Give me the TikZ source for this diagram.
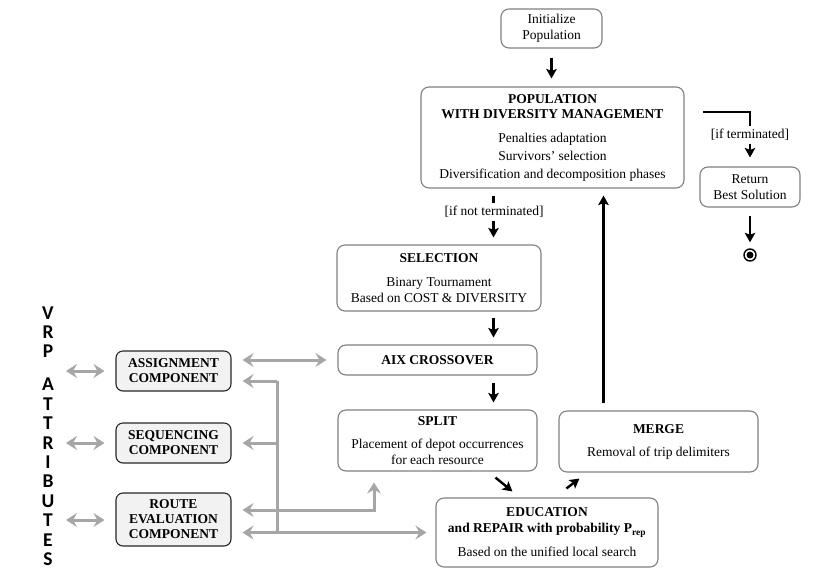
\documentclass[tikz,border=0pt]{standalone}
\usepackage{fontspec}
\setmainfont{Liberation Serif}
\newfontfamily\vrpfont{Carlito}
\usetikzlibrary{arrows.meta,calc}

\definecolor{boxline}{HTML}{808080}
\definecolor{compfill}{HTML}{F2F2F2}
\definecolor{compline}{HTML}{262626}
\definecolor{linkgray}{HTML}{A6A6A6}

\tikzset{
  ftip/.tip={Stealth[length=9.5pt,width=10.5pt,inset=2pt]},
  gtip/.tip={Stealth[length=11pt,width=14pt,inset=4pt]},
  stagebox/.style={draw=boxline, line width=1.1pt, rounded corners=8pt, fill=white,
    inner sep=0pt, align=center, font=\fontsize{13.5}{15}\selectfont},
  compbox/.style={draw=compline, line width=1.1pt, rounded corners=7pt, fill=compfill,
    inner sep=0pt, align=center, minimum width=115pt,
    font=\fontsize{13.5}{15}\selectfont\bfseries},
  flow/.style={line width=2.4pt, -ftip},
  plainlink/.style={draw=linkgray, line width=3pt},
  link/.style={plainlink, -gtip},
  twolink/.style={plainlink, gtip-gtip},
  guard/.style={fill=white, inner xsep=1pt, inner ysep=3pt,
    font=\fontsize{13.5}{15}\selectfont},
}

\begin{document}
\begin{tikzpicture}[x=1pt, y=-1pt]
\useasboundingbox (0,0) rectangle (815,574);

% ---- main evolutionary loop ----
\node[stagebox, minimum width=101pt, minimum height=39pt] (init) at (551.5,28.5)
  {Initialize\\[1pt]Population};
\node[stagebox, minimum width=263pt, minimum height=101pt] (pop) at (552.5,137.5)
  {\textbf{POPULATION}\\\textbf{WITH DIVERSITY MANAGEMENT}\\[9pt]
   Penalties adaptation\\[3pt]Survivors’ selection\\[3pt]Diversification and decomposition phases};
\node[stagebox, minimum width=100pt, minimum height=40pt] (ret) at (750,187)
  {Return\\[1pt]Best Solution};
\node[circle, draw, line width=1.4pt, minimum size=12pt, inner sep=0pt] (fin) at (750,255) {};
\node[circle, fill, minimum size=7pt, inner sep=0pt] (findot) at (fin.center) {};

\node[stagebox, minimum width=204pt, minimum height=66pt] (sel) at (439,278)
  {\textbf{SELECTION}\\[9pt]Binary Tournament\\[1pt]Based on COST \& DIVERSITY};
\node[stagebox, minimum width=199pt, minimum height=30pt] (aix) at (437.5,360)
  {\textbf{AIX CROSSOVER}};
\node[stagebox, minimum width=199pt, minimum height=61pt] (split) at (437.5,440.5)
  {\textbf{SPLIT}\\[8pt]Placement of depot occurrences\\[1pt]for each resource};
\node[stagebox, minimum width=199pt, minimum height=61pt] (merge) at (658.5,441.5)
  {\textbf{MERGE}\\[8pt]Removal of trip delimiters};
\node[stagebox, minimum width=222pt, minimum height=69pt] (edu) at (547,532.5)
  {\textbf{EDUCATION}\\[1pt]\textbf{and REPAIR with probability P\textsubscript{rep}}\\[9pt]
   Based on the unified local search};

% ---- problem-attribute components ----
\node[compbox, minimum height=40pt] (asg) at (173.5,371) {ASSIGNMENT\\COMPONENT};
\node[compbox, minimum height=40pt] (seq) at (173.5,443) {SEQUENCING\\COMPONENT};
\node[compbox, minimum height=53pt] (route) at (173.5,519.5) {ROUTE\\EVALUATION\\COMPONENT};

\node[font=\vrpfont\bfseries\fontsize{19.5}{19.4}\selectfont, align=center, inner sep=0pt]
  (vrp) at (48,436) {V\\R\\P\\[13.6pt]A\\T\\T\\R\\I\\B\\U\\T\\E\\S};

% ---- helper coordinates ----
\coordinate (flowx) at (493.5,0);
\coordinate (mergex) at (603.5,0);
\coordinate (termfork) at (703,112);
\coordinate (attr1) at (66,371);
\coordinate (attr2) at (66,443);
\coordinate (attr3) at (66,520);
\coordinate (bustop) at (277,381);
\coordinate (splitlink) at (374,510);

% ---- black flow arrows ----
\draw[flow, shorten <=9pt, shorten >=8pt] (init.south) -- (init.south |- pop.north);
\draw[flow, shorten >=9pt] (termfork) -| (ret.north);
\node[guard] (termlabel) at (750,135) {[if terminated]};
\draw[flow, shorten <=8pt, shorten >=6pt] (ret.south) -- (fin.north);

\draw[flow, shorten <=7pt, shorten >=7pt] (pop.south -| flowx) -- (sel.north -| flowx);
\node[guard] (contlabel) at (494,212) {[if not terminated]};
\draw[flow, shorten <=6pt, shorten >=7pt] (sel.south -| flowx) -- (aix.north -| flowx);
\draw[flow, shorten <=7pt, shorten >=7pt] (aix.south -| flowx) -- (split.north -| flowx);
\draw[flow] ($(split.south west)+(158,6)$) -- ($(edu.north west)+(77,-6)$);
\draw[flow] ($(edu.north west)+(131,-9)$) -- ($(merge.south west)+(21,6)$);
\draw[flow, shorten <=7pt, shorten >=7pt] (merge.north -| mergex) -- (pop.south -| mergex);

% ---- gray links ----
\draw[twolink, shorten >=11pt] (attr1) -- (asg.west);
\draw[twolink, shorten >=11pt] (attr2) -- (seq.west);
\draw[twolink, shorten >=11pt] (attr3) -- (route.west |- attr3);
\draw[twolink, shorten <=11pt, shorten >=11pt] (asg.east |- aix.west) -- (aix.west);

\draw[plainlink] (bustop) -- (bustop |- edu.west);
\draw[link, shorten >=11pt] (bustop) -- (asg.east |- bustop);
\draw[link, shorten >=11pt] (bustop |- seq.east) -- (seq.east);
\draw[twolink, shorten <=11pt, shorten >=11pt] (route.east |- splitlink) -| (split.south -| splitlink);
\draw[twolink, shorten <=11pt, shorten >=9pt] (route.east |- edu.west) -- (edu.west);
\end{tikzpicture}
\end{document}
